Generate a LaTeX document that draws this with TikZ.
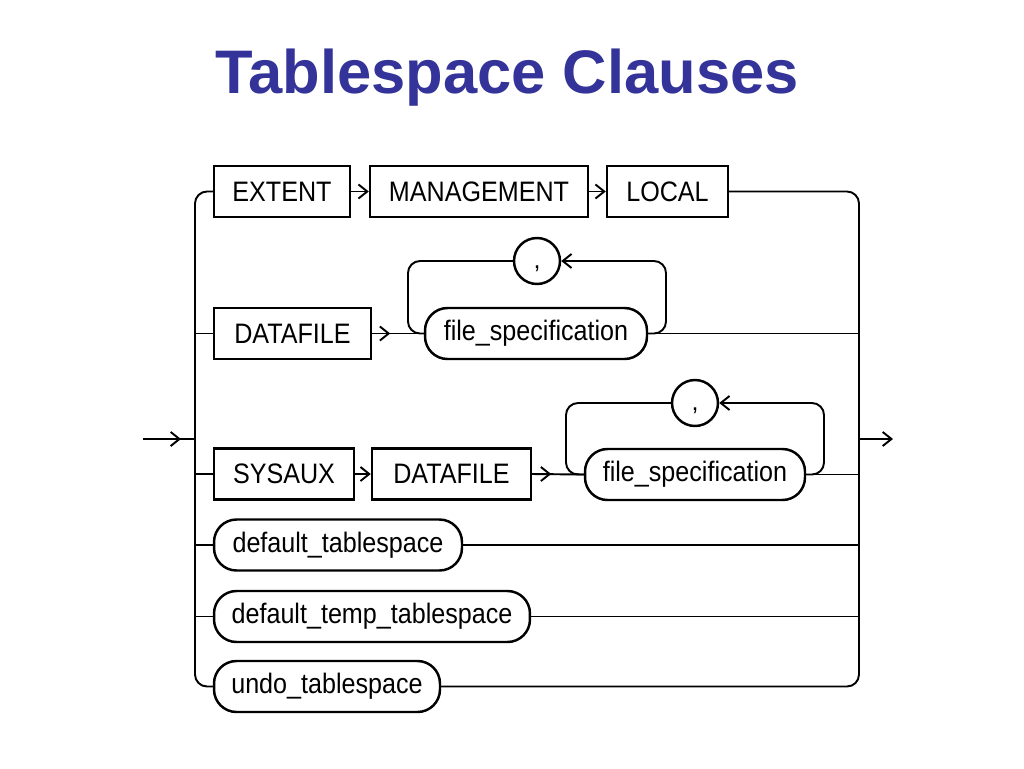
\documentclass[tikz,border=0pt]{standalone}
\usepackage{fontspec}
\setmainfont{Liberation Sans}
\usetikzlibrary{shapes,arrows.meta,positioning,calc}
\definecolor{titleblue}{RGB}{51,51,153}
\newcommand{\tall}[1]{\scalebox{1}[1.12]{#1}}
\newcommand{\lowcomma}{\raisebox{-0.14cm}[0pt][0pt]{,}}

\begin{document}
\begin{tikzpicture}[x=0.02cm,y=-0.02cm,line width=1.1pt,
  keyword/.style={draw,line width=1.4pt,minimum height=1.02cm,inner sep=0pt,font=\fontsize{14.3}{17}\selectfont},
  clause/.style={keyword,rounded corners=0.45cm},
  delim/.style={draw,circle,line width=1.4pt,minimum size=0.92cm,inner sep=0pt,font=\fontsize{14.3}{17}\selectfont},
  >={Straight Barb[length=5pt,width=8pt]}]
\useasboundingbox (0,0) rectangle (1024,768);

% Title
\node[anchor=base,font=\bfseries\fontsize{35}{40}\selectfont,text=titleblue] (title) at (507,93) {Tablespace Clauses};

% Rails and entry/exit points
\coordinate (start) at (143,439);
\coordinate (lrail) at (195,439);
\coordinate (rrail) at (859,439);
\coordinate (stop) at (893,439);

% Row 1: EXTENT MANAGEMENT LOCAL
\node[keyword,minimum width=2.72cm] (extent) at (282,191.5) {\tall{EXTENT}};
\node[keyword,minimum width=4.36cm] (management) at (479,191.5) {\tall{MANAGEMENT}};
\node[keyword,minimum width=2.42cm] (local) at (667.5,191.5) {\tall{LOCAL}};

% Row 2: DATAFILE file_specification
\node[keyword,minimum width=3.14cm] (datafile) at (292.5,333.5) {\tall{DATAFILE}};
\node[clause,minimum width=4.44cm] (filespec) at (536,333.5) {\tall{file\_specification}};
\node[delim] (comma) at (537,261) {\lowcomma};
\coordinate (loopl) at (408,300);
\coordinate (loopr) at (666,300);

% Row 3: SYSAUX DATAFILE file_specification
\node[keyword,minimum width=2.8cm] (sysaux) at (284,474) {\tall{SYSAUX}};
\node[keyword,minimum width=3.18cm] (sysdatafile) at (451.5,474) {\tall{DATAFILE}};
\node[clause,minimum width=4.4cm] (sysfilespec) at (695,474.5) {\tall{file\_specification}};
\node[delim] (syscomma) at (695,403) {\lowcomma};
\coordinate (sysloopl) at (566,440);
\coordinate (sysloopr) at (824,440);

% Rows 4-6: tablespace clauses
\node[clause,minimum width=4.96cm] (deftbs) at (338,545) {\tall{default\_tablespace}};
\node[clause,minimum width=6.32cm] (deftemp) at (372,616.5) {\tall{default\_temp\_tablespace}};
\node[clause,minimum width=4.52cm] (undotbs) at (327,686.5) {\tall{undo\_tablespace}};

% Entry and exit
\draw (start) -- (lrail);
\draw[->] (start) -- ($(lrail)+(-14,0)$);
\draw[->] (rrail) -- (stop);

% Left and right rails
\draw[rounded corners=0.24cm] (extent.west) -| (lrail |- undotbs.west) -- (undotbs.west);
\draw[rounded corners=0.24cm] (local.east) -| (rrail |- undotbs.east) -- (undotbs.east);

% Row 1
\draw[->] (extent.east) -- (management.west);
\draw[->] (management.east) -- (local.west);

% Row 2
\draw (lrail |- datafile.west) -- (datafile.west);
\draw (datafile.east) -- (filespec.west);
\draw[->] (datafile.east) -- ++(18,0);
\draw (filespec.east) -- (rrail |- filespec.east);
\draw[rounded corners=0.24cm] (filespec.west) -| (loopl |- comma.west) -- (comma.west);
\draw[->,rounded corners=0.24cm] (filespec.east) -| (loopr |- comma.east) -- (comma.east);

% Row 3
\draw (lrail |- sysaux.west) -- (sysaux.west);
\draw[->] (sysaux.east) -- (sysdatafile.west);
\draw (sysdatafile.east) -- (sysfilespec.west);
\draw[->] (sysdatafile.east) -- ++(19,0);
\draw (sysfilespec.east) -- (rrail |- sysfilespec.east);
\draw[rounded corners=0.24cm] (sysfilespec.west) -| (sysloopl |- syscomma.west) -- (syscomma.west);
\draw[->,rounded corners=0.24cm] (sysfilespec.east) -| (sysloopr |- syscomma.east) -- (syscomma.east);

% Rows 4-6
\draw (lrail |- deftbs.west) -- (deftbs.west);
\draw (deftbs.east) -- (rrail |- deftbs.east);
\draw (lrail |- deftemp.west) -- (deftemp.west);
\draw (deftemp.east) -- (rrail |- deftemp.east);

\end{tikzpicture}
\end{document}
